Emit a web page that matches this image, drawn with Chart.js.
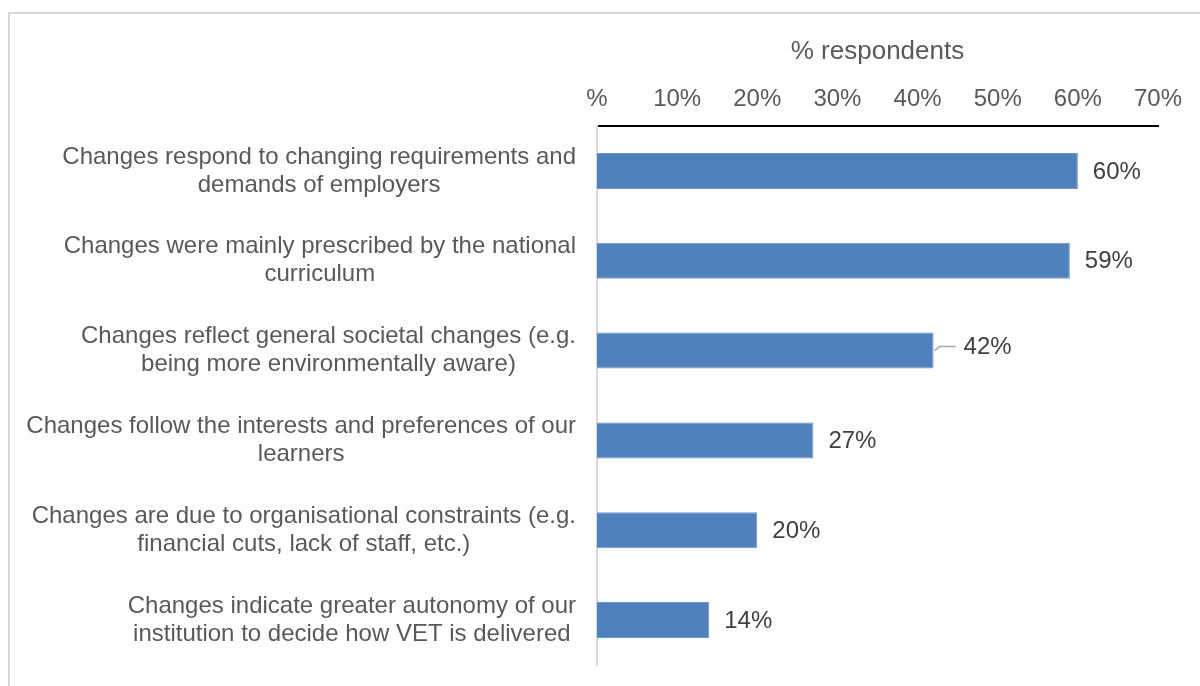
<!DOCTYPE html>
<html>
<head>
<meta charset="utf-8">
<script src="https://cdn.jsdelivr.net/npm/chart.js@4.4.1/dist/chart.umd.min.js"></script>
<style>
  html, body { margin: 0; padding: 0; background: #ffffff; }
  #wrap { position: relative; width: 1200px; height: 686px; overflow: hidden; }
  #frame {
    position: absolute; left: 8px; top: 12px; width: 1300px; height: 800px;
    border-left: 2px solid #d9d9d9; border-top: 2px solid #d9d9d9;
  }
  #chart { position: absolute; left: 0; top: 0; }
</style>
</head>
<body>
<div id="wrap">
  <div id="frame"></div>
  <canvas id="chart" width="1200" height="686"></canvas>
</div>
<script>
// Survey answers, one wrapped label per bar (top to bottom)
const categories = [
  ["Changes respond to changing requirements and", "demands of employers"],
  ["Changes were mainly prescribed by the national", "curriculum"],
  ["Changes reflect general societal changes (e.g.", "being more environmentally aware)"],
  ["Changes follow the interests and preferences of our", "learners"],
  ["Changes are due to organisational constraints (e.g.", "financial cuts, lack of staff, etc.)"],
  ["Changes indicate greater autonomy of our", "institution to decide how VET is delivered"]
];
// Share of respondents, in percent
const shares = [60, 59, 42, 27, 20, 14];
// Axis ticks
const tickValues = [0, 10, 20, 30, 40, 50, 60, 70];
const tickLabels = ["%", "10%", "20%", "30%", "40%", "50%", "60%", "70%"];
const axisTitle = "% respondents";

const FONT = "'Liberation Sans', Arial, sans-serif";
const TEXT_GREY = "#595959";
const LABEL_DARK = "#404040";

// Wrapped category labels: lines centred inside a right-aligned block
const categoryLabelPlugin = {
  id: "categoryLabels",
  afterDraw(chart) {
    const ctx = chart.ctx;
    const yScale = chart.scales.y;
    const right = chart.chartArea.left - 21;
    const lineH = 28;
    ctx.save();
    ctx.font = "24px " + FONT;
    ctx.fillStyle = TEXT_GREY;
    ctx.textAlign = "center";
    ctx.textBaseline = "middle";
    categories.forEach((lines, i) => {
      const y = yScale.getPixelForValue(i);
      const blockW = Math.max(...lines.map(l => ctx.measureText(l).width));
      const cx = right - blockW / 2;
      lines.forEach((line, j) => {
        ctx.fillText(line, cx, y + (j - (lines.length - 1) / 2) * lineH);
      });
    });
    ctx.restore();
  }
};

// Value labels at the bar ends; the 42% label sits on a short leader line
const valueLabelPlugin = {
  id: "valueLabels",
  afterDatasetsDraw(chart) {
    const ctx = chart.ctx;
    const meta = chart.getDatasetMeta(0);
    const leaderIndex = 2;
    ctx.save();
    ctx.font = "24px " + FONT;
    ctx.fillStyle = LABEL_DARK;
    ctx.textAlign = "left";
    ctx.textBaseline = "middle";
    meta.data.forEach((bar, i) => {
      const text = shares[i] + "%";
      if (i === leaderIndex) {
        ctx.save();
        ctx.strokeStyle = "#a6a6a6";
        ctx.lineWidth = 1.5;
        ctx.beginPath();
        ctx.moveTo(bar.x + 1, bar.y);
        ctx.lineTo(bar.x + 6, bar.y - 4);
        ctx.lineTo(bar.x + 22, bar.y - 4);
        ctx.stroke();
        ctx.restore();
        ctx.fillText(text, bar.x + 30, bar.y - 3);
      } else {
        ctx.fillText(text, bar.x + 15, bar.y + 1);
      }
    });
    ctx.restore();
  }
};

const PAD_TOP = 36;
const AXIS_Y = 126;

new Chart(document.getElementById("chart"), {
  type: "bar",
  data: {
    labels: categories.map(l => l.join(" ")),
    datasets: [{
      data: shares,
      backgroundColor: "#4f81bd",
      borderColor: "#6b95c8",
      borderWidth: 1,
      barPercentage: 0.4,
      categoryPercentage: 1
    }]
  },
  options: {
    indexAxis: "y",
    responsive: false,
    animation: false,
    devicePixelRatio: 1,
    layout: { padding: { left: 597, right: 42, top: PAD_TOP, bottom: 21 } },
    plugins: {
      legend: { display: false },
      tooltip: { enabled: false }
    },
    scales: {
      x: {
        position: "top",
        min: 0,
        max: 70,
        afterBuildTicks(scale) {
          scale.ticks = tickValues.map(v => ({ value: v }));
        },
        afterFit(scale) { scale.height = AXIS_Y - PAD_TOP; },
        ticks: {
          padding: 12,
          color: TEXT_GREY,
          font: { family: FONT, size: 24 },
          maxRotation: 0,
          autoSkip: false,
          callback: (v) => tickLabels[tickValues.indexOf(v)]
        },
        grid: { display: false, drawTicks: false },
        border: { display: true, color: "#000000", width: 2 },
        title: {
          display: true,
          text: axisTitle,
          color: TEXT_GREY,
          font: { family: FONT, size: 26 },
          padding: { top: 0, bottom: 0 }
        }
      },
      y: {
        afterFit(scale) { scale.width = 0; },
        ticks: { display: false },
        grid: { display: false, drawTicks: false },
        border: { display: true, color: "#d9d9d9", width: 2 }
      }
    }
  },
  plugins: [categoryLabelPlugin, valueLabelPlugin]
});
</script>
</body>
</html>
